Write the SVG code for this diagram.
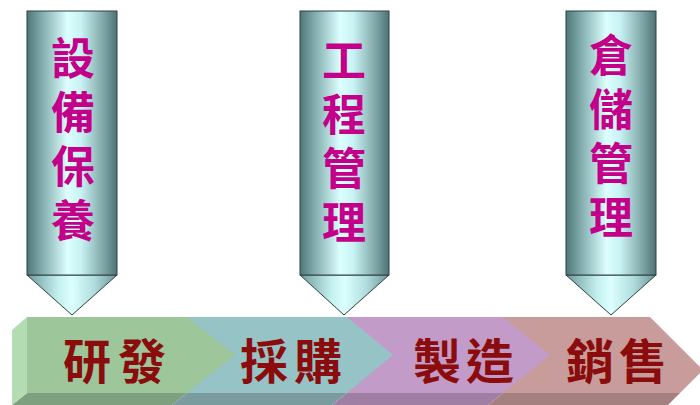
<svg xmlns="http://www.w3.org/2000/svg" width="700" height="405" viewBox="0 0 700 405">
  <defs>
    <linearGradient id="pillar" x1="0" y1="0" x2="1" y2="0">
      <stop offset="0" stop-color="#4e7778"/>
      <stop offset="0.18" stop-color="#86b0b1"/>
      <stop offset="0.45" stop-color="#dcffff"/>
      <stop offset="0.6" stop-color="#c8f2f3"/>
      <stop offset="0.85" stop-color="#7fa6a7"/>
      <stop offset="1" stop-color="#4c7475"/>
    </linearGradient>
    <linearGradient id="tip" x1="0" y1="0" x2="1" y2="0">
      <stop offset="0" stop-color="#6f9a9b"/>
      <stop offset="0.35" stop-color="#c4f0f0"/>
      <stop offset="0.5" stop-color="#dcffff"/>
      <stop offset="0.75" stop-color="#b0dcdd"/>
      <stop offset="1" stop-color="#6a9495"/>
    </linearGradient>
    <style>
      .body { fill: url(#pillar); stroke: #2f3f40; stroke-width: 1; }
      .tip { fill: url(#tip); stroke: #2f3f40; stroke-width: 1; }
      .vtext { font-family: "Noto Sans CJK TC", "Noto Sans CJK SC", sans-serif; font-size: 44px; font-weight: 700; fill: #c4008a; writing-mode: vertical-rl; letter-spacing: 10px; }
      .htext { font-family: "Noto Sans CJK TC", "Noto Sans CJK SC", serif; font-size: 48px; font-weight: 700; fill: #8a0c0c; text-anchor: middle; dominant-baseline: central; }
    </style>
  </defs>
  <rect width="700" height="405" fill="#ffffff"/>

  <!-- process band (drawn right to left so chevron tips overlap) -->
  <g id="stage-sales">
    <polygon points="503,393 680,393 668,405 488,405" fill="#a58080"/>
    <polygon points="495,317 650,317 703,370 680,393 495,393" fill="#c89c9a"/>
    <text class="htext" x="590" y="358">銷</text>
    <text class="htext" x="643" y="358">售</text>
  </g>
  <g id="stage-manufacturing">
    <polygon points="347,393 503,393 488,405 332,405" fill="#9f7fa4"/>
    <polygon points="340,317 503,317 550,355 503,393 340,393" fill="#c29bc9"/>
    <text class="htext" x="437" y="358">製</text>
    <text class="htext" x="490" y="358">造</text>
  </g>
  <g id="stage-purchasing">
    <polygon points="187,393 347,393 332,405 172,405" fill="#7a9c9e"/>
    <polygon points="180,317 347,317 393,355 347,393 180,393" fill="#96c3c5"/>
    <text class="htext" x="264" y="358">採</text>
    <text class="htext" x="318" y="358">購</text>
  </g>
  <g id="stage-rd">
    <polygon points="27,393 187,393 172,405 12,405" fill="#7fa07f"/>
    <polygon points="12,330 27,317 27,393 12,405" fill="#b4dcb2"/>
    <polygon points="27,317 187,317 235,355 187,393 27,393" fill="#9dc69b"/>
    <text class="htext" x="87" y="358">研</text>
    <text class="htext" x="142" y="358">發</text>
  </g>

  <!-- pillars -->
  <g id="pillar-maintenance">
    <polygon class="tip" points="27,275 117,275 72,315"/>
    <rect class="body" x="27" y="11" width="90" height="264"/>
    <text class="vtext" x="73" y="36">設備保養</text>
  </g>
  <g id="pillar-engineering">
    <polygon class="tip" points="300,275 389,275 344,315"/>
    <rect class="body" x="300" y="11" width="89" height="264"/>
    <text class="vtext" x="344" y="38">工程管理</text>
  </g>
  <g id="pillar-warehouse">
    <polygon class="tip" points="566,275 656,275 611,315"/>
    <rect class="body" x="566" y="11" width="90" height="264"/>
    <text class="vtext" x="611" y="33">倉儲管理</text>
  </g>
</svg>
